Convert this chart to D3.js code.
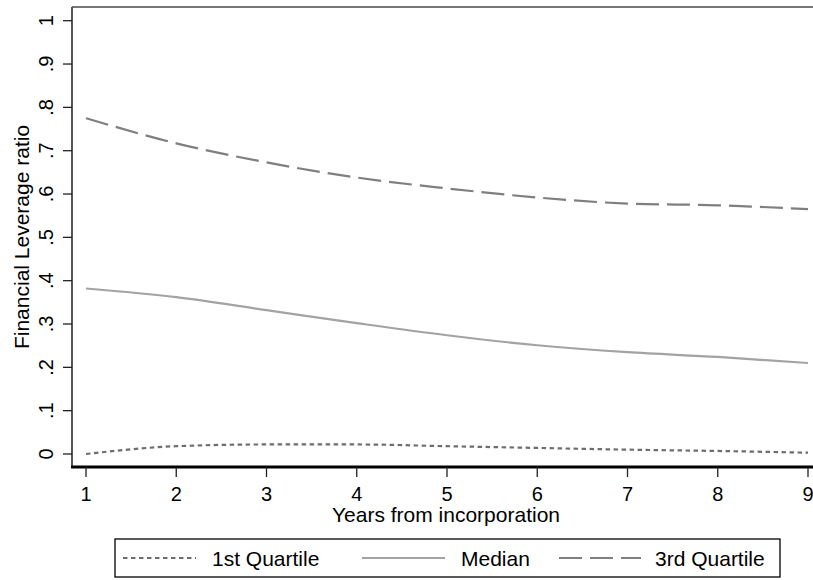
<!DOCTYPE html>
<html>
<head>
<meta charset="utf-8">
<script src="https://cdn.jsdelivr.net/npm/d3@7"></script>
<style>
  body { margin: 0; background: #fff; }
  svg { display: block; font-family: Arial, "Liberation Sans", sans-serif; }
</style>
</head>
<body>
<svg id="chart" width="813" height="580"></svg>
<script>
// Data
const years = [1, 2, 3, 4, 5, 6, 7, 8, 9];
const q1 = [0.000, 0.018, 0.022, 0.022, 0.018, 0.014, 0.010, 0.007, 0.003];
const median = [0.382, 0.362, 0.332, 0.302, 0.274, 0.251, 0.235, 0.224, 0.210];
const q3 = [0.775, 0.717, 0.673, 0.638, 0.613, 0.592, 0.578, 0.574, 0.565];
const yTicks = [0, 0.1, 0.2, 0.3, 0.4, 0.5, 0.6, 0.7, 0.8, 0.9, 1];
const yTickLabels = ["0", ".1", ".2", ".3", ".4", ".5", ".6", ".7", ".8", ".9", "1"];

const seriesList = [
  { name: "1st Quartile", values: q1, color: "#6e6e6e", dash: "4.5,3.5" },
  { name: "Median", values: median, color: "#a3a3a3", dash: null },
  { name: "3rd Quartile", values: q3, color: "#7f7f7f", dash: "23,8" }
];

const svg = d3.select("#chart");
const plotLeft = 72, plotTop = 7, plotBottom = 467, plotRight = 816;

const x = d3.scaleLinear().domain([1, 9]).range([86, 808]);
const y = d3.scaleLinear().domain([0, 1]).range([454, 20.7]);

// plot frame (top border)
svg.append("line")
  .attr("x1", plotLeft).attr("x2", plotRight)
  .attr("y1", plotTop).attr("y2", plotTop)
  .attr("stroke", "#777").attr("stroke-width", 2);

// y axis
const yAxis = svg.append("g").attr("transform", `translate(${plotLeft},0)`);
yAxis.append("line")
  .attr("x1", 0).attr("x2", 0).attr("y1", plotTop).attr("y2", plotBottom)
  .attr("stroke", "#555").attr("stroke-width", 2);
yTicks.forEach((t, i) => {
  yAxis.append("line")
    .attr("x1", -9).attr("x2", 0).attr("y1", y(t)).attr("y2", y(t))
    .attr("stroke", "#222").attr("stroke-width", 1.3);
  yAxis.append("text")
    .attr("transform", `translate(-19,${y(t)}) rotate(-90)`)
    .attr("text-anchor", "middle")
    .attr("font-size", 20)
    .text(yTickLabels[i]);
});

// x axis
const xAxis = svg.append("g").attr("transform", `translate(0,${plotBottom})`);
xAxis.append("line")
  .attr("x1", plotLeft - 1).attr("x2", plotRight).attr("y1", 0).attr("y2", 0)
  .attr("stroke", "#000").attr("stroke-width", 3);
years.forEach(t => {
  xAxis.append("line")
    .attr("x1", x(t)).attr("x2", x(t)).attr("y1", 0).attr("y2", 10)
    .attr("stroke", "#222").attr("stroke-width", 1.3);
  xAxis.append("text")
    .attr("x", x(t)).attr("y", 34)
    .attr("text-anchor", "middle")
    .attr("font-size", 20)
    .text(t);
});

// axis titles
svg.append("text")
  .attr("x", 446).attr("y", 522)
  .attr("text-anchor", "middle")
  .attr("font-size", 21)
  .text("Years from incorporation");
svg.append("text")
  .attr("transform", "translate(29,237) rotate(-90)")
  .attr("text-anchor", "middle")
  .attr("font-size", 21)
  .text("Financial Leverage ratio");

// lines
const line = d3.line()
  .x((d, i) => x(years[i]))
  .y(d => y(d))
  .curve(d3.curveMonotoneX);

seriesList.forEach(s => {
  svg.append("path")
    .datum(s.values)
    .attr("d", line)
    .attr("fill", "none")
    .attr("stroke", s.color)
    .attr("stroke-width", 2.2)
    .attr("stroke-dasharray", s.dash);
});

// legend
const legend = svg.append("g");
legend.append("rect")
  .attr("x", 115).attr("y", 539).attr("width", 665).attr("height", 38)
  .attr("fill", "#fff").attr("stroke", "#000").attr("stroke-width", 1.3);
const legendItems = [
  { x1: 123, x2: 196, tx: 212 },
  { x1: 362, x2: 445, tx: 461 },
  { x1: 559, x2: 641, tx: 655 }
];
seriesList.forEach((s, i) => {
  const it = legendItems[i];
  legend.append("line")
    .attr("x1", it.x1).attr("x2", it.x2).attr("y1", 558).attr("y2", 558)
    .attr("stroke", s.color).attr("stroke-width", 2.2)
    .attr("stroke-dasharray", s.dash);
  legend.append("text")
    .attr("x", it.tx).attr("y", 566)
    .attr("font-size", 21)
    .text(s.name);
});
</script>
</body>
</html>
